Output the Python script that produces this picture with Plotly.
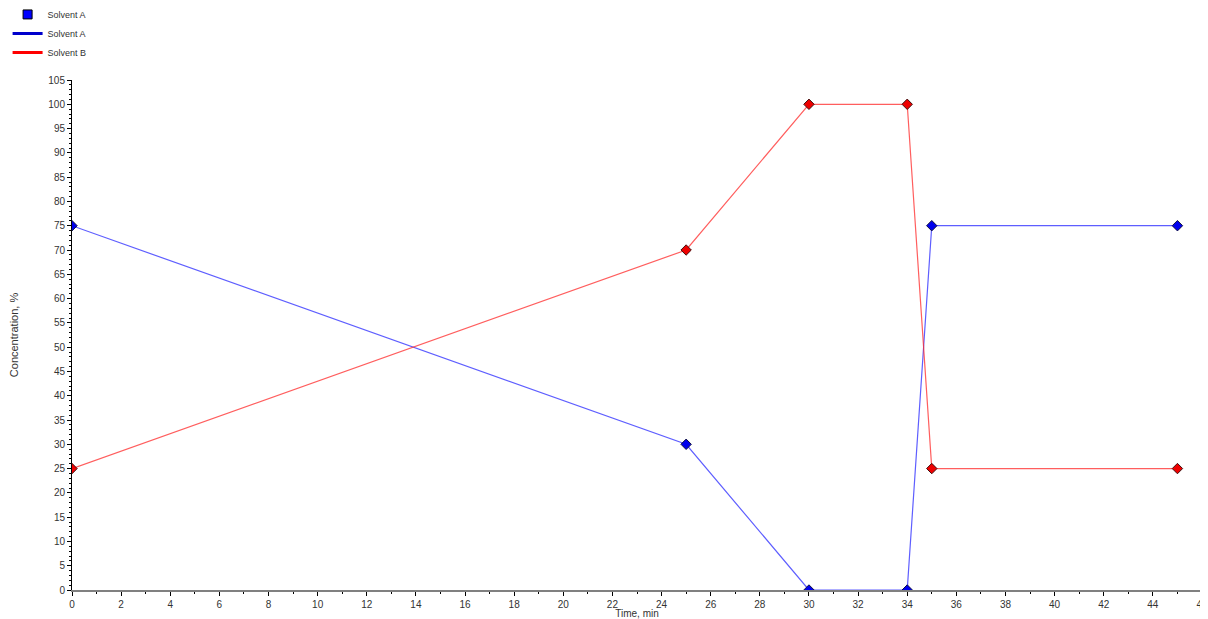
import plotly.graph_objects as go

time_a = [0, 25, 30, 34, 35, 45]
solvent_a = [75, 30, 0, 0, 75, 75]
time_b = [0, 25, 30, 34, 35, 45]
solvent_b = [25, 70, 100, 100, 25, 25]

fig = go.Figure()
fig.add_trace(go.Scatter(x=time_a, y=solvent_a, mode="lines+markers", showlegend=False,
                         line=dict(color="rgba(40,40,255,0.75)", width=1.2),
                         marker=dict(symbol="diamond", size=8, color="#0000ee",
                                     line=dict(color="#101040", width=1))))
fig.add_trace(go.Scatter(x=time_b, y=solvent_b, mode="lines+markers", showlegend=False,
                         line=dict(color="rgba(255,40,40,0.75)", width=1.2),
                         marker=dict(symbol="diamond", size=8, color="#ee0000",
                                     line=dict(color="#401010", width=1))))
# legend entries
fig.add_trace(go.Scatter(x=[None], y=[None], mode="markers", name="Solvent A",
                         marker=dict(symbol="square", size=9, color="#0000ff",
                                     line=dict(color="#000000", width=1))))
fig.add_trace(go.Scatter(x=[None], y=[None], mode="lines", name="Solvent A",
                         line=dict(color="#0000cc", width=3)))
fig.add_trace(go.Scatter(x=[None], y=[None], mode="lines", name="Solvent B",
                         line=dict(color="#ff0000", width=3)))

axis_font = dict(family="Liberation Sans, Arial", size=10, color="#333333")
fig.update_layout(
    width=1200, height=611,
    margin=dict(l=64, r=6, t=72, b=29, autoexpand=False),
    plot_bgcolor="white", paper_bgcolor="white",
    font=dict(family="Liberation Sans, Arial", size=10, color="#333333"),
    legend=dict(x=-0.057, y=1.157, xanchor="left", yanchor="top",
                font=dict(size=9, color="#333333"), tracegroupgap=0,
                itemwidth=30, bgcolor="rgba(0,0,0,0)"),
    xaxis=dict(range=[0, 46], dtick=2, tick0=0, showgrid=False, zeroline=False,
               showline=True, linecolor="#808080", linewidth=2,
               ticks="outside", ticklen=4, tickcolor="#000000", tickfont=axis_font,
               minor=dict(dtick=1, ticks="outside", ticklen=2, tickcolor="#000000"),
               title=dict(text="Time, min", font=dict(size=10, color="#333333"), standoff=0)),
    yaxis=dict(range=[0, 105], dtick=5, tick0=0, showgrid=False, zeroline=False,
               showline=True, linecolor="#000000", linewidth=1,
               ticks="outside", ticklen=4, tickcolor="#000000", tickfont=axis_font,
               minor=dict(dtick=1, ticks="outside", ticklen=2, tickcolor="#000000"),
               title=dict(text="Concentration, %", font=dict(size=11, color="#333333"), standoff=27)),
)
fig.write_html("out.html")
